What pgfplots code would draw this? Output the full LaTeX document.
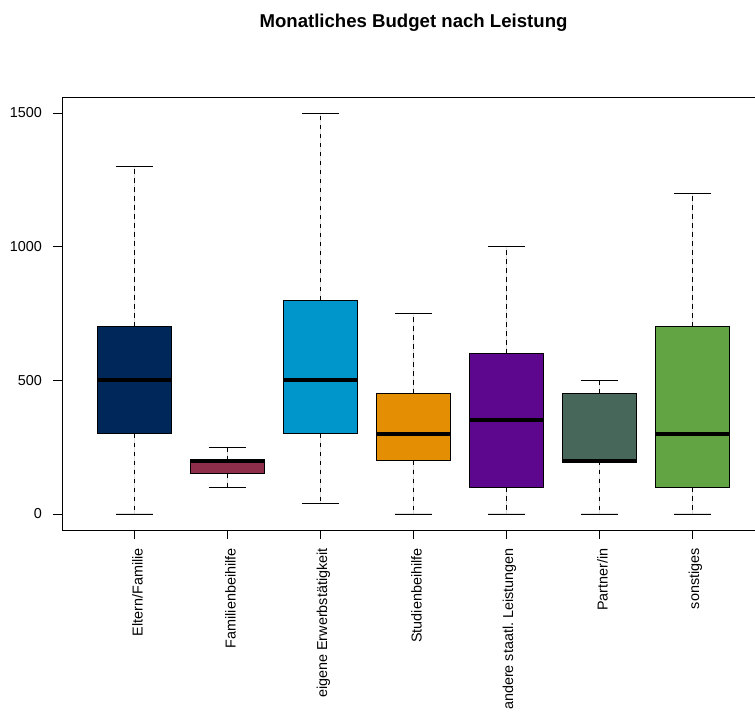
\documentclass[border=0pt]{standalone}
\usepackage{fontspec}
\setmainfont{Liberation Sans}
\usepackage{pgfplots}
\pgfplotsset{compat=1.18}
\usepgfplotslibrary{statistics}
\definecolor{c1}{HTML}{00275A}
\definecolor{c2}{HTML}{8E2E4B}
\definecolor{c3}{HTML}{0096CB}
\definecolor{c4}{HTML}{E38E03}
\definecolor{c5}{HTML}{5D078F}
\definecolor{c6}{HTML}{48675B}
\definecolor{c7}{HTML}{62A343}
\pgfplotsset{
  rbox/.style={
    solid, draw=black, line width=0.8pt,
    boxplot/box extend=0.8,
    boxplot/whisker extend=0.4,
    boxplot/every median/.style={line width=4pt, black},
    boxplot/draw/lower whisker/.code={%
      \draw[black, line width=0.8pt, dash pattern=on 4.5pt off 4.5pt]
        (boxplot cs:\pgfplotsboxplotvalue{lower quartile}) --
        (boxplot cs:\pgfplotsboxplotvalue{lower whisker});
      \draw[black, line width=0.8pt, solid]
        (boxplot whisker cs:\pgfplotsboxplotvalue{lower whisker},0) --
        (boxplot whisker cs:\pgfplotsboxplotvalue{lower whisker},1);
    },
    boxplot/draw/upper whisker/.code={%
      \draw[black, line width=0.8pt, dash pattern=on 4.5pt off 4.5pt]
        (boxplot cs:\pgfplotsboxplotvalue{upper quartile}) --
        (boxplot cs:\pgfplotsboxplotvalue{upper whisker});
      \draw[black, line width=0.8pt, solid]
        (boxplot whisker cs:\pgfplotsboxplotvalue{upper whisker},0) --
        (boxplot whisker cs:\pgfplotsboxplotvalue{upper whisker},1);
    },
  }
}
\begin{document}
\begin{tikzpicture}
\begin{axis}[
  name=ax,
  boxplot/draw direction=y,
  scale only axis,
  width=703pt, height=433pt,
  xmin=0.22, xmax=7.78,
  ymin=-60, ymax=1560,
  axis line style={line width=0.8pt},
  tick style={line width=0.8pt, black},
  tick align=outside,
  major tick length=9pt,
  xtick={1,2,3,4,5,6,7},
  xticklabels={Eltern/Familie,Familienbeihilfe,eigene Erwerbstätigkeit,Studienbeihilfe,andere staatl.\ Leistungen,Partner/in,sonstiges},
  xtick pos=bottom, ytick pos=left,
  ytick={0,500,1000,1500},
  /pgf/number format/1000 sep={},
  /pgf/number format/assume math mode=true,
  yticklabel style={font=\fontsize{14.4}{16}\selectfont, inner sep=0pt, xshift=-11pt},
  xticklabel style={font=\fontsize{14.4}{16}\selectfont, yshift=-9pt, rotate=90, yshift=-3pt, anchor=east, inner sep=0pt},
  title={Monatliches Budget nach Leistung},
  title style={font=\fontsize{18.6}{22}\selectfont\bfseries, anchor=base, yshift=63pt},
]
\addplot+[rbox, fill=c1, boxplot prepared={draw position=1, lower whisker=0, lower quartile=300, median=500, upper quartile=700, upper whisker=1300}] coordinates {};
\addplot+[rbox, fill=c2, boxplot prepared={draw position=2, lower whisker=100, lower quartile=150, median=200, upper quartile=200, upper whisker=250}] coordinates {};
\addplot+[rbox, fill=c3, boxplot prepared={draw position=3, lower whisker=40, lower quartile=300, median=500, upper quartile=800, upper whisker=1500}] coordinates {};
\addplot+[rbox, fill=c4, boxplot prepared={draw position=4, lower whisker=0, lower quartile=200, median=300, upper quartile=450, upper whisker=750}] coordinates {};
\addplot+[rbox, fill=c5, boxplot prepared={draw position=5, lower whisker=0, lower quartile=100, median=350, upper quartile=600, upper whisker=1000}] coordinates {};
\addplot+[rbox, fill=c6, boxplot prepared={draw position=6, lower whisker=0, lower quartile=200, median=200, upper quartile=450, upper whisker=500}] coordinates {};
\addplot+[rbox, fill=c7, boxplot prepared={draw position=7, lower whisker=0, lower quartile=100, median=300, upper quartile=700, upper whisker=1200}] coordinates {};
\end{axis}
\pgfresetboundingbox
\path[use as bounding box] ([shift={(-62pt,-188pt)}]ax.south west) rectangle ([shift={(693pt,97pt)}]ax.north west);
\end{tikzpicture}
\end{document}
